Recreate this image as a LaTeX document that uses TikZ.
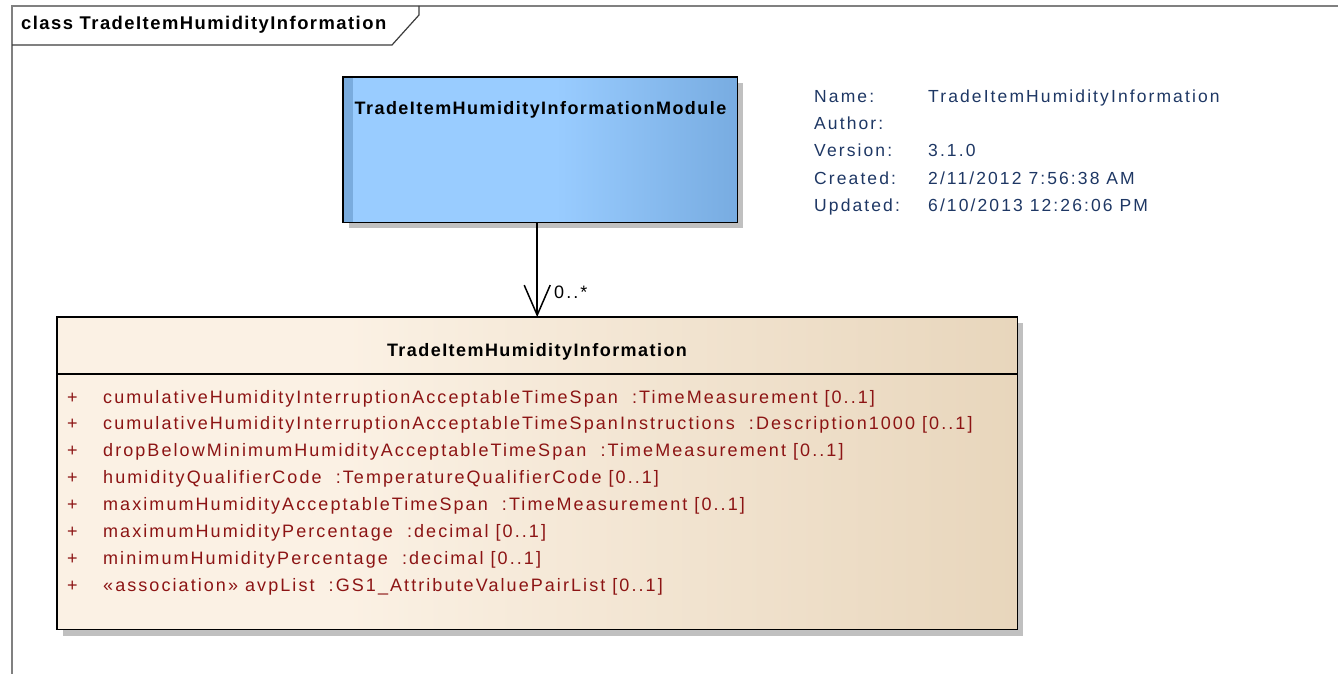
\documentclass[tikz,border=0pt]{standalone}
\usepackage{fontspec}
\setmainfont{Liberation Sans}
\newfontfamily\regf[LetterSpace=11.5]{Liberation Sans}
\newfontfamily\metaf[LetterSpace=12]{Liberation Sans}
\newfontfamily\boldf[LetterSpace=8]{Liberation Sans}
\usetikzlibrary{arrows.meta}
\definecolor{framecol}{RGB}{128,128,128}
\definecolor{labelcol}{RGB}{60,60,60}
\definecolor{shadowcol}{RGB}{192,192,192}
\definecolor{blueL}{RGB}{153,204,255}
\definecolor{blueR}{RGB}{120,172,225}
\definecolor{stripecol}{RGB}{122,172,222}
\definecolor{creamL}{RGB}{251,241,228}
\definecolor{creamR}{RGB}{232,214,188}
\definecolor{attrcol}{RGB}{140,20,20}
\definecolor{metacol}{RGB}{30,55,100}
\pgfdeclarehorizontalshading{blueshade}{100bp}{color(0bp)=(blueL); color(25bp)=(blueL); color(52bp)=(blueL); color(75bp)=(blueR); color(100bp)=(blueR)}
\pgfdeclarehorizontalshading{creamshade}{100bp}{color(0bp)=(creamL); color(25bp)=(creamL); color(40bp)=(creamL); color(75bp)=(creamR); color(100bp)=(creamR)}
\tikzset{
  rtext/.style={font=\regf\fontsize{18pt}{21pt}\selectfont, inner sep=0pt},
  btext/.style={font=\boldf\bfseries\fontsize{18pt}{21pt}\selectfont, inner sep=0pt},
  attr/.style={rtext, text=attrcol, anchor=base west},
  meta/.style={font=\metaf\fontsize{17.5pt}{20pt}\selectfont, inner sep=0pt, text=metacol, anchor=base west},
  boxline/.style={draw=black, line width=1.5pt},
}
\begin{document}
\begin{tikzpicture}[x=1pt,y=-1pt]
\useasboundingbox (0,0) rectangle (1338,674);
% frame
\draw[framecol, line width=1.5pt] (12,674) -- (12,6) -- (1338,6);
\draw[labelcol, line width=1.2pt] (12,45) -- (392,45) -- (419,15) -- (419,6);
\node[btext, font=\boldf\bfseries\fontsize{18.4pt}{21pt}\selectfont, anchor=base west] (frametitle) at (21,29.3) {class TradeItemHumidityInformation};
% module box
\fill[shadowcol] (349,83) rectangle (743,228);
\node[shading=blueshade, minimum width=394pt, minimum height=145pt, anchor=north west, inner sep=0pt] (mod) at (343,77) {};
\fill[stripecol] (mod.north west) rectangle ([xshift=10pt]mod.south west);
\draw[boxline] (mod.north west) rectangle (mod.south east);
\node[btext, anchor=base] (modtitle) at (540.5,115) {TradeItemHumidityInformationModule};
% class box
\fill[shadowcol] (63,323) rectangle (1023,636);
\node[shading=creamshade, minimum width=960pt, minimum height=312pt, anchor=north west, inner sep=0pt] (cls) at (57,317) {};
\draw[boxline] (cls.north west) rectangle (cls.south east);
\draw[line width=1.2pt] ([yshift=-57pt]cls.north west) -- ([yshift=-57pt]cls.north east);
\node[btext, anchor=base] (clstitle) at (537,356) {TradeItemHumidityInformation};
\foreach \i/\t in {0/{cumulativeHumidityInterruptionAcceptableTimeSpan\ \ :TimeMeasurement [0..1]},
  1/{cumulativeHumidityInterruptionAcceptableTimeSpanInstructions\ \ :Description1000 [0..1]},
  2/{dropBelowMinimumHumidityAcceptableTimeSpan\ \ :TimeMeasurement [0..1]},
  3/{humidityQualifierCode\ \ :TemperatureQualifierCode [0..1]},
  4/{maximumHumidityAcceptableTimeSpan\ \ :TimeMeasurement [0..1]},
  5/{maximumHumidityPercentage\ \ :decimal [0..1]},
  6/{minimumHumidityPercentage\ \ :decimal [0..1]},
  7/{«association» avpList\ \ :GS1\_AttributeValuePairList [0..1]}} {
  \node[attr] (p\i) at (67,403+26.9*\i) {+};
  \node[attr] (a\i) at (103,403+26.9*\i) {\t};
}
% association
\draw[line width=1.5pt, -{Straight Barb[length=30pt,width=26pt,line width=1.5pt]}] (mod.south -| cls.north) -- (cls.north);
\node[rtext, anchor=base west] (mult) at (554,298.7) {0..*};
% metadata
\node[meta] (k0) at (814,102.3) {Name:};
\node[meta] (v0) at (928,102.3) {TradeItemHumidityInformation};
\node[meta] (k1) at (814,129.6) {Author:};
\node[meta] (k2) at (814,156.9) {Version:};
\node[meta] (v2) at (928,156.9) {3.1.0};
\node[meta] (k3) at (814,184.2) {Created:};
\node[meta] (v3) at (928,184.2) {2/11/2012 7:56:38 AM};
\node[meta] (k4) at (814,211.5) {Updated:};
\node[meta] (v4) at (928,211.5) {6/10/2013 12:26:06 PM};
\end{tikzpicture}
\end{document}
